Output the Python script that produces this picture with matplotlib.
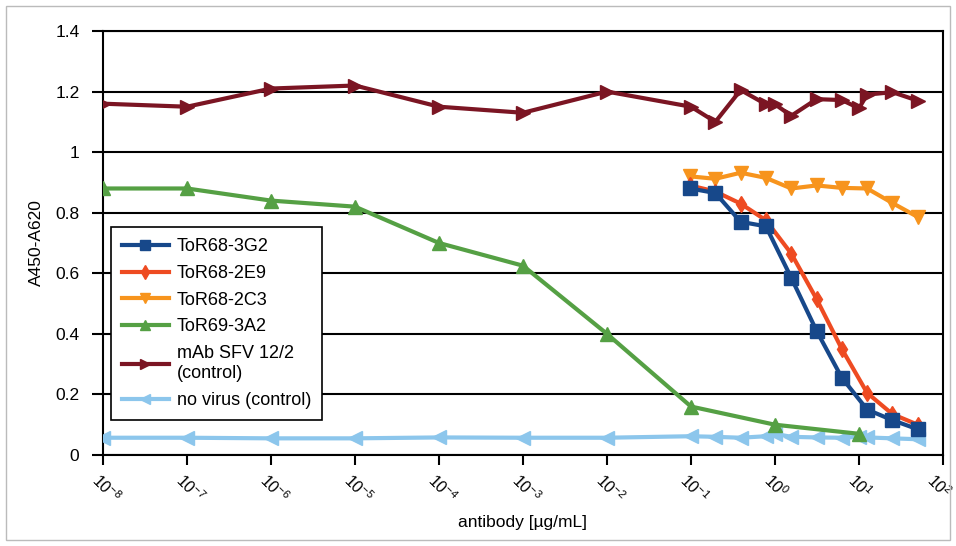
import math
import matplotlib
matplotlib.use("Agg")
import matplotlib.pyplot as plt
from matplotlib.patches import Rectangle
from matplotlib.transforms import ScaledTranslation
from matplotlib.ticker import FixedLocator, FuncFormatter, NullLocator

plt.rcParams['font.family'] = ['Liberation Sans', 'DejaVu Sans']
plt.rcParams['mathtext.fontset'] = 'custom'
plt.rcParams['mathtext.rm'] = 'Liberation Sans'
plt.rcParams['mathtext.it'] = 'Liberation Sans:italic'
plt.rcParams['mathtext.bf'] = 'Liberation Sans:bold'

# antibody concentrations [ug/mL]
x_decades = [1e-8, 1e-7, 1e-6, 1e-5, 1e-4, 1e-3, 1e-2, 1e-1, 1e0, 1e1]
x_dilution = [0.0977, 0.195, 0.39, 0.78, 1.5625, 3.125, 6.25, 12.5, 25, 50]
x_control = [1e-8, 1e-7, 1e-6, 1e-5, 1e-4, 1e-3, 1e-2, 1e-1,
             0.195, 0.39, 0.78, 1.0, 1.5625, 3.125, 6.25, 10, 12.5, 25, 50]

y_3g2 = [0.88, 0.865, 0.77, 0.755, 0.585, 0.41, 0.255, 0.15, 0.115, 0.085]
y_2e9 = [0.89, 0.87, 0.83, 0.775, 0.665, 0.515, 0.35, 0.205, 0.135, 0.10]
y_2c3 = [0.92, 0.912, 0.932, 0.915, 0.88, 0.89, 0.882, 0.88, 0.832, 0.786]
y_3a2 = [0.88, 0.88, 0.84, 0.82, 0.70, 0.625, 0.40, 0.16, 0.10, 0.07]
y_sfv = [1.16, 1.15, 1.21, 1.22, 1.15, 1.13, 1.20, 1.15,
         1.10, 1.205, 1.158, 1.158, 1.12, 1.175, 1.172, 1.145, 1.19, 1.198, 1.17]
y_novirus = [0.057, 0.057, 0.055, 0.055, 0.058, 0.057, 0.057, 0.062,
             0.06, 0.057, 0.062, 0.07, 0.06, 0.058, 0.057, 0.06, 0.058, 0.055, 0.052]

series = [
    ('ToR68-3G2', x_dilution, y_3g2, '#17488A', 's', 10),
    ('ToR68-2E9', x_dilution, y_2e9, '#EE4B22', 'd', 8),
    ('ToR68-2C3', x_dilution, y_2c3, '#F7941D', 'v', 10),
    ('ToR69-3A2', x_decades, y_3a2, '#55A044', '^', 10),
    ('mAb SFV 12/2\n(control)', x_control, y_sfv, '#7B1523', '>', 10),
    ('no virus (control)', x_control, y_novirus, '#8CC6EC', '<', 10),
]

fig = plt.figure(figsize=(9.56, 5.46), dpi=100)
ax = fig.add_axes([103 / 956, 91 / 546, 840 / 956, 424 / 546])

# first series drawn on top
for i, (name, xs, ys, col, mk, ms) in enumerate(series):
    ax.plot(xs, ys, color=col, lw=3, marker=mk, ms=ms, mec=col, mfc=col,
            label=name, zorder=10 - i)

ax.set_xscale('log')
ax.set_xlim(1e-8, 1e2)
ax.set_ylim(0, 1.4)
ax.xaxis.set_major_locator(FixedLocator([10.0 ** k for k in range(-8, 3)]))
ax.xaxis.set_minor_locator(NullLocator())
ax.xaxis.set_major_formatter(FuncFormatter(
    lambda v, p: r'$10^{%d}$' % round(math.log10(v))))
ax.set_yticks([0, 0.2, 0.4, 0.6, 0.8, 1.0, 1.2, 1.4])
ax.yaxis.set_major_formatter(FuncFormatter(lambda v, p: f'{v:g}'))

ax.yaxis.grid(True, color='black', lw=1.5)
ax.set_axisbelow(True)
for sp in ax.spines.values():
    sp.set_color('black')
    sp.set_linewidth(1.5)

ax.tick_params(axis='y', direction='out', length=8, width=1.5, labelsize=12.5, pad=9)
ax.tick_params(axis='x', direction='out', length=7, width=1.5, labelsize=11.5, pad=9)
xlabels = ax.get_xticklabels()
for j, lab in enumerate(xlabels):
    lab.set_rotation(-45)
    lab.set_ha('left')
    lab.set_va('center')
    lab.set_rotation_mode('anchor')
    dx = -8 if j < len(xlabels) - 1 else -13  # keep 10^2 inside the figure
    lab.set_transform(lab.get_transform() + ScaledTranslation(dx / 100, 0, fig.dpi_scale_trans))

ax.set_ylabel('A450-A620', fontsize=12.5, labelpad=8)
ax.set_xlabel('antibody [µg/mL]', fontsize=12.5, labelpad=6)

leg = ax.legend(loc='lower left', bbox_to_anchor=(0.0095, 0.0825), borderaxespad=0,
                fontsize=13, numpoints=1, handlelength=2.6, fancybox=False,
                framealpha=1, edgecolor='black', labelspacing=0.54,
                handletextpad=0.45, borderpad=0.6)
leg.get_frame().set_linewidth(1.2)
for h in leg.legend_handles:
    h.set_markersize(7)
for t in leg.get_texts():
    t.set_linespacing(1.25)

fig.patches.append(Rectangle((6 / 956, 6 / 546), 944 / 956, 534 / 546,
                             transform=fig.transFigure, fill=False,
                             edgecolor='#BBBBBB', lw=1))

fig.savefig('out.png', dpi=100)
